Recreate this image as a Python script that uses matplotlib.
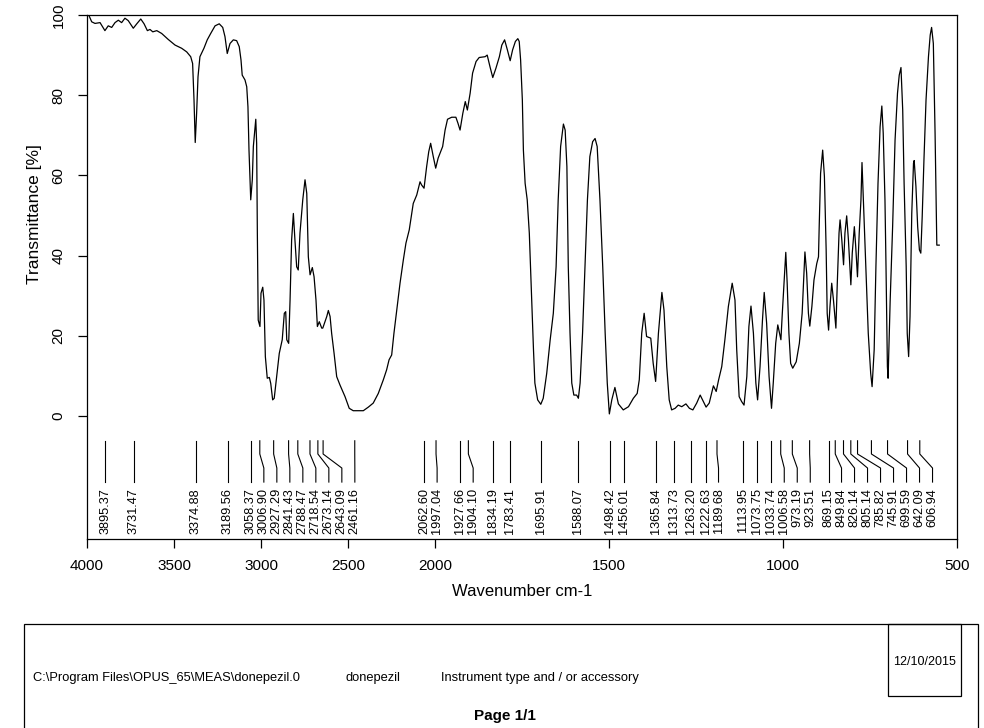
import numpy as np
import matplotlib
matplotlib.use("Agg")
import matplotlib.pyplot as plt
from matplotlib.patches import Rectangle

plt.rcParams['font.family'] = ['Liberation Sans', 'DejaVu Sans']

# spectrum: wavenumber (cm-1) and transmittance (%)
wavenumber = [
    3987, 3973, 3954, 3925, 3897, 3878, 3858, 3839, 3820, 3801, 3782, 3763, 3734, 3714, 3691, 3672,
    3653, 3638, 3622, 3599, 3571, 3533, 3494, 3456, 3427, 3404, 3393, 3385, 3378, 3370, 3362, 3351,
    3328, 3309, 3289, 3264, 3240, 3220, 3207, 3194, 3178, 3159, 3140, 3125, 3115, 3108, 3092, 3082,
    3075, 3069, 3059, 3050, 3044, 3030, 3025, 3021, 3016, 3006, 3000, 2990, 2983, 2975, 2964, 2952,
    2944, 2933, 2924, 2910, 2895, 2878, 2866, 2858, 2852, 2841, 2833, 2824, 2814, 2805, 2795, 2786,
    2776, 2760, 2747, 2737, 2728, 2718, 2705, 2695, 2684, 2676, 2665, 2651, 2645, 2632, 2622, 2613,
    2603, 2594, 2580, 2565, 2546, 2517, 2493, 2470, 2412, 2383, 2355, 2326, 2297, 2278, 2264, 2249,
    2236, 2220, 2201, 2182, 2167, 2148, 2134, 2125, 2105, 2086, 2077, 2063, 2048, 2036, 2025, 2010,
    1998, 1991, 1978, 1971, 1964, 1952, 1940, 1934, 1928, 1920, 1913, 1907, 1899, 1892, 1882, 1873,
    1856, 1850, 1842, 1834, 1825, 1815, 1808, 1800, 1792, 1784, 1777, 1769, 1762, 1758, 1754, 1749,
    1746, 1741, 1735, 1729, 1722, 1717, 1713, 1705, 1696, 1689, 1679, 1669, 1660, 1652, 1646, 1639,
    1631, 1626, 1621, 1617, 1612, 1607, 1601, 1593, 1588, 1583, 1576, 1569, 1562, 1555, 1547, 1540,
    1534, 1526, 1518, 1511, 1505, 1499, 1492, 1483, 1473, 1459, 1444, 1430, 1419, 1413, 1406, 1399,
    1392, 1380, 1373, 1366, 1358, 1348, 1342, 1334, 1327, 1320, 1310, 1301, 1291, 1279, 1269, 1259,
    1248, 1238, 1229, 1221, 1212, 1200, 1192, 1185, 1176, 1167, 1157, 1146, 1138, 1133, 1126, 1119,
    1112, 1104, 1098, 1092, 1085, 1078, 1073, 1066, 1059, 1054, 1047, 1040, 1033, 1028, 1021, 1015,
    1010, 1006, 1002, 997, 992, 988, 983, 978, 972, 962, 953, 945, 937, 932, 927, 923,
    917, 911, 903, 898, 896, 892, 886, 881, 876, 873, 869, 865, 860, 855, 848, 844,
    839, 836, 831, 826, 822, 817, 812, 805, 801, 795, 791, 786, 781, 776, 773, 769,
    762, 755, 748, 744, 738, 733, 727, 721, 716, 712, 707, 704, 700, 698, 692, 685,
    678, 671, 666, 661, 656, 652, 646, 643, 639, 635, 630, 625, 623, 618, 613, 608,
    604, 600, 595, 589, 582, 577, 573, 568, 563, 560, 558, 551,
]
transmittance = [
    99.7, 98.3, 97.9, 98.1, 96.1, 97.3, 96.9, 98.1, 98.7, 98.1, 99.2, 98.6, 96.7, 97.8, 99.0, 97.8,
    96.1, 96.4, 95.8, 96.1, 95.4, 93.9, 92.5, 91.7, 90.8, 89.6, 87.9, 78.8, 68.2, 75.5, 84.6, 89.6,
    91.7, 93.8, 95.4, 97.3, 97.8, 96.9, 94.6, 90.4, 92.9, 93.8, 93.6, 92.1, 88.8, 85.0, 83.8, 82.1,
    77.1, 66.3, 53.9, 58.9, 67.2, 74.0, 68.0, 45.6, 23.9, 22.3, 30.6, 32.1, 28.9, 14.8, 9.4, 9.6,
    8.1, 4.0, 4.4, 9.8, 15.6, 19.0, 25.6, 26.0, 19.0, 18.1, 28.9, 43.9, 50.5, 43.9, 37.2, 36.4,
    45.6, 53.9, 58.9, 55.5, 39.7, 35.2, 37.0, 34.7, 28.9, 22.3, 23.5, 21.9, 21.9, 23.5, 24.8, 26.3,
    24.8, 20.6, 15.6, 9.8, 7.7, 4.8, 1.9, 1.3, 1.3, 2.2, 3.2, 5.6, 9.0, 11.5, 14.0, 15.2,
    20.6, 26.4, 33.1, 38.9, 43.1, 46.4, 50.5, 53.0, 55.1, 58.4, 57.6, 56.8, 62.2, 65.9, 68.0, 64.7,
    61.8, 64.3, 67.2, 71.3, 74.0, 74.5, 74.5, 73.0, 71.3, 75.5, 78.4, 76.3, 80.5, 85.5, 88.4, 89.4,
    89.6, 90.0, 87.1, 84.4, 86.7, 89.6, 92.5, 93.8, 91.3, 88.6, 91.3, 93.4, 94.1, 93.4, 88.8, 78.8,
    66.3, 58.0, 53.9, 45.6, 28.9, 16.5, 8.2, 4.0, 2.9, 4.4, 10.6, 19.0, 25.6, 37.2, 53.9, 67.2,
    72.8, 71.3, 62.2, 37.2, 20.6, 8.2, 5.2, 5.2, 4.4, 8.2, 20.6, 37.2, 53.9, 64.7, 68.4, 69.2,
    67.2, 53.9, 37.2, 20.6, 8.2, 0.5, 4.0, 7.1, 3.0, 1.5, 2.3, 4.4, 5.6, 9.0, 20.6, 25.6,
    19.8, 19.4, 13.1, 8.6, 20.6, 30.8, 26.4, 12.3, 4.0, 1.5, 1.9, 2.7, 2.3, 3.0, 1.9, 1.5,
    3.2, 5.2, 3.6, 2.2, 3.2, 7.5, 6.1, 9.0, 12.3, 19.0, 27.3, 33.1, 28.9, 16.5, 4.8, 3.6,
    2.7, 9.8, 22.3, 27.4, 20.6, 8.2, 4.0, 12.3, 23.9, 30.8, 23.1, 9.8, 1.9, 8.2, 18.1, 22.7,
    20.6, 19.0, 25.6, 33.1, 40.8, 33.1, 20.6, 13.1, 11.9, 13.5, 18.1, 25.6, 40.9, 35.6, 25.6, 22.4,
    27.3, 33.9, 38.0, 39.7, 47.2, 60.5, 66.3, 59.7, 41.4, 25.6, 21.4, 27.3, 33.1, 28.9, 21.9, 33.1,
    45.6, 48.9, 43.9, 37.7, 45.6, 49.9, 43.9, 32.7, 40.6, 47.2, 42.2, 34.7, 45.6, 53.9, 63.2, 53.9,
    37.2, 20.6, 10.6, 7.3, 16.5, 37.2, 58.0, 72.1, 77.3, 70.5, 53.9, 37.2, 12.3, 9.4, 28.9, 47.2,
    68.8, 80.5, 85.0, 86.9, 76.3, 58.0, 37.2, 20.6, 14.8, 24.8, 50.5, 63.0, 63.7, 57.2, 47.2, 41.4,
    40.6, 49.7, 63.8, 78.8, 89.6, 95.0, 96.9, 92.9, 70.5, 53.9, 42.6, 42.6,
]

peaks = [
    3895.37, 3731.47, 3374.88, 3189.56, 3058.37, 3006.90, 2927.29, 2841.43, 2788.47, 2718.54,
    2673.14, 2643.09, 2461.16, 2062.60, 1997.04, 1927.66, 1904.10, 1834.19, 1783.41, 1695.91,
    1588.07, 1498.42, 1456.01, 1365.84, 1313.73, 1263.20, 1222.63, 1189.68, 1113.95, 1073.75,
    1033.74, 1006.58, 973.19, 923.51, 869.15, 849.84, 826.14, 805.14, 785.82, 745.91,
    699.59, 642.09, 606.94,
]

x_ticks = [4000, 3500, 3000, 2500, 2000, 1500, 1000, 500]
y_ticks = [0, 20, 40, 60, 80, 100]

file_path = r"C:\Program Files\OPUS_65\MEAS\donepezil.0"
sample_name = "donepezil"
instrument = "Instrument type and / or accessory"
date_text = "12/10/2015"


# OPUS style axis: region above 2000 cm-1 is compressed by a factor 2
def fwd(x):
    x = np.asarray(x, dtype=float)
    return np.where(x > 2000, 2000 + (x - 2000) / 2.0, x)


def inv(u):
    u = np.asarray(u, dtype=float)
    return np.where(u > 2000, 2000 + (u - 2000) * 2.0, u)


fig = plt.figure(figsize=(9.84, 7.28), dpi=100)
ax = fig.add_axes([87 / 984, 1 - 539 / 728, 870 / 984, 524 / 728])
ax.set_xscale('function', functions=(fwd, inv))
ax.set_xlim(4000, 500)
ax.set_ylim(-30.7, 100)

ax.plot(wavenumber, transmittance, color='black', lw=0.9)

# peak labels, spread apart so they don't overlap
min_gap = 13 / (870 / 2500)   # 13 px in scaled units
prev = None
for wn in sorted(peaks, reverse=True):
    u = float(fwd(wn))
    lab_u = u if prev is None else min(u, prev - min_gap)
    prev = lab_u
    lab = float(inv(lab_u))
    ax.plot([wn, wn, lab, lab], [-6.2, -9.5, -13.0, -16.5], color='black', lw=0.8)
    ax.text(lab, -18.0, f"{wn:.2f}", rotation=90, ha='center', va='top', fontsize=9.2)

ax.set_xticks(x_ticks)
ax.set_xticklabels([str(t) for t in x_ticks])
ax.xaxis.set_minor_locator(matplotlib.ticker.NullLocator())
ax.set_yticks(y_ticks)
ax.set_yticklabels([str(t) for t in y_ticks], rotation=90, va='center')
ax.tick_params(axis='both', direction='out', length=6.5, width=0.9, labelsize=11)
ax.tick_params(axis='x', pad=8)
ax.tick_params(axis='y', pad=9)
for s in ax.spines.values():
    s.set_linewidth(0.9)

fig.text(522 / 984, 1 - 591 / 728, "Wavenumber cm-1", ha='center', va='center', fontsize=12)
fig.text(35 / 984, 1 - 214 / 728, "Transmittance [%]", ha='center', va='center',
         rotation=90, fontsize=12.5)

# footer box
fig.patches.append(Rectangle((24 / 984, -0.05), (978 - 24) / 984, (728 - 624) / 728 + 0.05,
                             transform=fig.transFigure, fill=False, lw=0.9, ec='black'))
fig.patches.append(Rectangle((888 / 984, 1 - 696 / 728), (961 - 888) / 984, (696 - 624) / 728,
                             transform=fig.transFigure, fill=False, lw=0.9, ec='black'))
fig.text(33 / 984, 1 - 678 / 728, file_path, ha='left', va='center', fontsize=9.3)
fig.text(346 / 984, 1 - 678 / 728, sample_name, ha='left', va='center', fontsize=9.3)
fig.text(441 / 984, 1 - 678 / 728, instrument, ha='left', va='center', fontsize=9.3)
fig.text(924 / 984, 1 - 662 / 728, date_text, ha='center', va='center', fontsize=9)
fig.text(505 / 984, 1 - 716 / 728, "Page 1/1", ha='center', va='center', fontsize=11,
         fontweight='bold')

fig.savefig("out.png", dpi=100)
